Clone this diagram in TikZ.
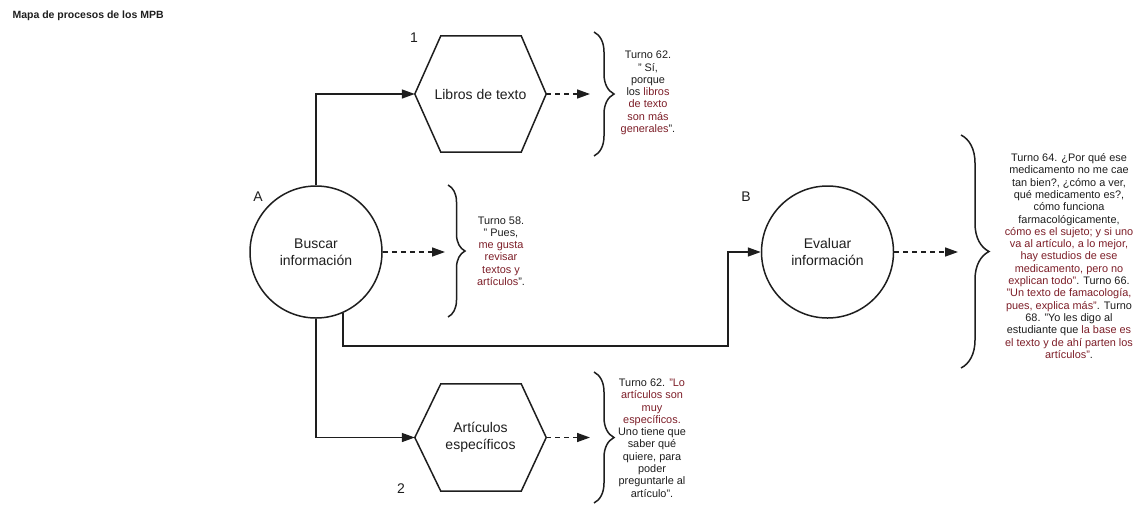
\documentclass[tikz,border=0pt]{standalone}
\usepackage{fontspec}
\setmainfont{Liberation Sans}
\usetikzlibrary{arrows.meta,calc,decorations.pathreplacing}
\definecolor{ink}{RGB}{30,30,30}
\definecolor{quote}{RGB}{125,30,40}
\newcommand\qred[1]{\textcolor{quote}{#1}}
\begin{document}
\begin{tikzpicture}[x=1pt,y=-1pt,
  wire/.style={draw=ink,line width=1.5pt},
  flow/.style={wire,-{Triangle[length=13pt,width=9pt]}},
  dflow/.style={wire,dash pattern=on 5pt off 4pt,-{Triangle[length=13pt,width=9pt]}},
  proc/.style={circle,draw=ink,line width=1.5pt,minimum size=132pt,inner sep=0pt,
    align=center,font=\fontsize{14}{17}\selectfont,text=ink},
  hexbox/.style={minimum width=131pt,minimum height=#1,inner sep=0pt,
    align=center,font=\fontsize{14}{17.5}\selectfont,text=ink},
  quotebox/.style={align=center,font=\fontsize{10.9}{12.3}\selectfont,text=ink,inner sep=0pt},
  letter/.style={font=\fontsize{14}{17}\selectfont,text=ink,inner sep=0pt},
  bracket/.style={wire,decorate,decoration={brace,amplitude=#1}},
]
\useasboundingbox (0,0) rectangle (1139,504);

% title
\node[anchor=west,font=\bfseries\fontsize{10.5}{12}\selectfont,text=ink] (title) at (9,16) {Mapa de procesos de los MPB};

% processes
\node[proc] (A) at (316,252) {Buscar\\información};
\node[proc] (B) at (827.5,252) {Evaluar\\información};
\node[hexbox=116pt] (h1) at (480.5,94) {Libros de texto};
\node[hexbox=107pt] (h2) at (480.5,437.5) {Artículos\\específicos};

% hexagon outlines
\foreach \h in {h1,h2}{
  \draw[wire] (\h.west) -- ($(\h.north west)+(26,0)$) -- ($(\h.north east)+(-25,0)$)
    -- (\h.east) -- ($(\h.south east)+(-25,0)$) -- ($(\h.south west)+(26,0)$) -- cycle;
}

% labels
\node[letter] (la) at (258,197) {A};
\node[letter] (lb) at (746,197) {B};
\node[letter] (l1) at (414,38) {1};
\node[letter] (l2) at (401,489) {2};

% solid connectors
\coordinate (bend) at (728,346);
\draw[flow] (A.north) |- (h1.west);
\draw[flow] (A.south) |- (h2.west);
\draw[flow] (A.-66) |- (bend) |- (B.west);

% dashed connectors towards the quotes
\coordinate (e1) at (590,94);
\coordinate (e2) at (445,252);
\coordinate (e3) at (958,252);
\coordinate (e4) at (590,437.5);
\draw[dflow] (h1.east) -- (e1);
\draw[dflow] (A.east) -- (e2);
\draw[dflow] (B.east) -- (e3);
\draw[dflow] (h2.east) -- (e4);

% braces
\draw[bracket=20pt] (594,32) -- (594,156);
\draw[bracket=17pt] (448,185) -- (448,317);
\draw[bracket=28pt] (961,135) -- (961,368);
\draw[bracket=20pt] (594,372) -- (594,503);

% quotes
\node[quotebox] (q1) at (648,93) {Turno 62.\\" Sí,\\porque\\los \qred{libros}\\\qred{de texto}\\\qred{son más}\\\qred{generales}".};
\node[quotebox] (q2) at (501,251) {Turno 58.\\" Pues,\\\qred{me gusta}\\\qred{revisar}\\\qred{textos y}\\\qred{artículos}".};
\node[quotebox] (q3) at (652,438) {Turno 62. \qred{"Lo}\\\qred{artículos son}\\\qred{muy}\\\qred{específicos.}\\Uno tiene que\\saber qué\\quiere, para\\poder\\preguntarle al\\artículo".};
\node[quotebox] (q4) at (1069,256) {Turno 64. ¿Por qué ese\\medicamento no me cae\\tan bien?, ¿cómo a ver,\\qué medicamento es?,\\cómo funciona\\farmacológicamente,\\\qred{cómo es el sujeto; y si uno}\\\qred{va al artículo, a lo mejor,}\\\qred{hay estudios de ese}\\\qred{medicamento, pero no}\\\qred{explican todo"}. Turno 66.\\\qred{"Un texto de famacología,}\\\qred{pues, explica más"}. Turno\\68. "Yo les digo al\\estudiante que \qred{la base es}\\\qred{el texto y de ahí parten los}\\\qred{artículos"}.};
\end{tikzpicture}
\end{document}
